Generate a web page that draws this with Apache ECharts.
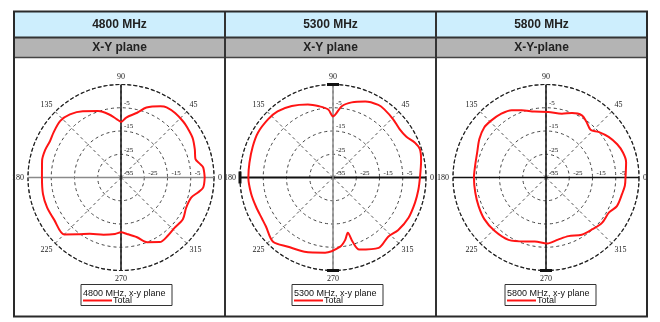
<!DOCTYPE html>
<html><head><meta charset="utf-8">
<script src="https://cdn.jsdelivr.net/npm/echarts@6/dist/echarts.min.js"></script>
<style>html,body{margin:0;padding:0;background:#fff}#c{width:660px;height:322px}</style>
</head><body><div id="c"></div>
<script>
// ---------- data ----------
const freqLabels = ['4800 MHz', '5300 MHz', '5800 MHz'];
const planeLabels = ['X-Y plane', 'X-Y plane', 'X-Y-plane'];
const legendTitles = ['4800 MHz, x-y plane', '5300 MHz, x-y plane', '5800 MHz, x-y plane'];
const seriesName = 'Total';
const angleTicks = [0, 45, 90, 135, 180, 225, 270, 315];
const radiusTicks = [-35, -25, -15, -5, 5];

const angles4800 = [0, 7, 10, 14, 21, 29, 37, 42, 50, 57, 61, 70, 76, 85, 90, 94, 101, 109, 120, 129, 137, 146, 153, 160, 168, 180, 192, 202, 212, 225, 233, 241, 253, 264, 270, 276, 285, 292, 301, 309, 317, 326, 335, 344, 349, 353, 360];
const gain4800 = [1.0, 0.6, -0.6, -2.0, -1.0, 0.2, 0.7, 1.0, 1.2, 1.0, 0.0, -3.0, -6.3, -9.1, -11.1, -9.9, -7.3, -4.8, -2.1, -0.1, 0.7, -0.1, -0.7, -0.3, -0.3, -1.0, -0.7, -0.7, -1.0, -0.4, -4.4, -7.3, -9.3, -10.6, -11.4, -10.6, -8.4, -5.0, -2.6, -2.9, -3.4, -2.9, -4.1, -3.6, -1.3, 0.6, 1.0];

const angles5300 = [0, 11, 18, 23, 29, 36, 44, 53, 58, 67, 76, 83, 90, 94, 101, 109, 120, 130, 138, 149, 159, 170, 180, 191, 201, 210, 216, 227, 237, 249, 264, 276, 281, 285, 287, 290, 303, 313, 321, 332, 343, 352, 360];
const gain5300 = [2.4, 3.6, 4.3, 3.3, 1.1, 0.4, 1.0, 1.7, 1.8, 0.5, -1.7, -4.1, -8.7, -5.7, -3.8, -1.8, 0.5, 2.1, 2.5, 2.6, 2.0, 1.5, 1.4, 0.9, 0.4, 0.3, 0.7, 2.8, 0.5, -0.8, -2.5, -5.1, -7.6, -10.4, -6.1, -2.0, 1.1, -0.2, 1.0, 1.8, 1.9, 2.1, 2.4];

const angles5800 = [0, 11, 18, 25, 33, 41, 47, 54, 60, 68, 76, 88, 100, 110, 117, 125, 134, 141, 150, 160, 171, 180, 192, 203, 214, 226, 239, 252, 260, 271, 281, 291, 302, 312, 321, 331, 338, 348, 354, 360];
const gain5800 = [-0.8, 0.1, -0.2, -1.2, -2.9, -5.1, -6.9, -5.4, -4.1, -5.1, -6.7, -6.8, -6.2, -4.2, -2.5, -1.5, -1.0, -0.8, -1.9, -3.5, -4.1, -4.0, -3.9, -3.5, -3.0, -3.1, -3.7, -6.1, -7.1, -6.6, -7.8, -8.0, -6.0, -5.1, -4.0, -4.0, -2.1, -1.5, -0.9, -0.8];

const anglesList = [angles4800, angles5300, angles5800];
const gainList = [gain4800, gain5300, gain5800];

// ---------- layout ----------
const centersX = [121, 333, 546];
const centerY = 177.5;
const R = 93;
const cellEdges = [14, 225, 436, 647];
const legendBoxX = [81, 292, 505];
const crossColors = [['#8a8a8a', '#111'], ['#111', '#8a8a8a'], ['#111', '#111']];
const crossWidths = [[1.5, 1.5], [2, 1.5], [1.5, 1.5]];
// thick end caps on axis ends: [at 0, at 180, at 90, at 270]
const caps = [[false, false, false, false], [false, true, true, true], [false, false, false, true]];

const rMin = radiusTicks[0], rMax = radiusTicks[radiusTicks.length - 1];

const polar = [], angleAxis = [], radiusAxis = [], series = [], legend = [], graphic = [];

const radLabelBase = {fontSize: 7, fontFamily: 'Liberation Serif', color: '#111', margin: 0, align: 'left', verticalAlign: 'bottom'};

function endPoint(r, a, cap, size) {
  return cap ? {value: [r, a], symbol: 'rect', symbolSize: size, itemStyle: {color: '#111'}} : {value: [r, a], symbol: 'none'};
}

centersX.forEach((cx, i) => {
  polar.push({center: [cx, centerY], radius: R});
  polar.push({center: [cx, centerY], radius: R});
  angleAxis.push({
    polarIndex: 2 * i, type: 'value', min: 0, max: 360, interval: 45, startAngle: 0, clockwise: false,
    axisLine: {lineStyle: {color: '#222', width: 1.2, type: [4, 2]}},
    axisTick: {show: false},
    axisLabel: {margin: 4, fontSize: 8, fontFamily: 'Liberation Serif', color: '#222',
      formatter: v => angleTicks.indexOf(v) >= 0 ? String(v) : ''},
    splitLine: {lineStyle: {color: '#555', width: 1, type: [3, 3]}}
  });
  angleAxis.push({polarIndex: 2 * i + 1, type: 'value', min: 0, max: 360, startAngle: 90, clockwise: false, show: false});
  radiusAxis.push({
    polarIndex: 2 * i, type: 'value', min: rMin, max: rMax, interval: 10,
    axisLine: {show: false}, axisTick: {show: false},
    axisLabel: Object.assign({}, radLabelBase, {padding: [0, 0, 1, 4],
      formatter: v => (v === rMin || v === rMax) ? '' : String(v)}),
    splitLine: {lineStyle: {color: '#444', width: 1, type: [3, 3]}}
  });
  radiusAxis.push({
    polarIndex: 2 * i + 1, type: 'value', min: rMin, max: rMax, interval: 10,
    axisLine: {show: false}, axisTick: {show: false}, splitLine: {show: false},
    axisLabel: Object.assign({}, radLabelBase, {padding: [0, 0, 1, 3],
      formatter: v => (v === rMax) ? '' : String(v)})
  });
  series.push({type: 'line', coordinateSystem: 'polar', name: 'h' + i, polarIndex: 2 * i, silent: true, z: 3,
    data: [endPoint(rMax, 0, caps[i][0], [3, 12]), {value: [rMin, 0], symbol: 'none'}, endPoint(rMax, 180, caps[i][1], [3, 12])],
    lineStyle: {color: crossColors[i][0], width: crossWidths[i][0]}});
  series.push({type: 'line', coordinateSystem: 'polar', name: 'v' + i, polarIndex: 2 * i, silent: true, z: 3,
    data: [endPoint(rMax, 90, caps[i][2], [12, 3]), {value: [rMin, 90], symbol: 'none'}, endPoint(rMax, 270, caps[i][3], [12, 3])],
    lineStyle: {color: crossColors[i][1], width: crossWidths[i][1]}});
  series.push({type: 'line', coordinateSystem: 'polar', name: seriesName, polarIndex: 2 * i, symbol: 'none', smooth: 0.3, z: 5,
    data: anglesList[i].map((a, k) => [gainList[i][k], a]),
    itemStyle: {color: '#ff1414'},
    lineStyle: {color: '#ff1414', width: 2}});
  legend.push({data: [seriesName], left: legendBoxX[i] + 2, top: 296, padding: 0,
    itemWidth: 29, itemHeight: 2, icon: 'rect', selectedMode: false,
    textStyle: {fontSize: 9, fontFamily: 'Liberation Sans', color: '#111', padding: [0, 0, 0, -4]}});
  graphic.push({type: 'rect', shape: {x: legendBoxX[i], y: 284.5, width: 91, height: 21},
    style: {fill: 'none', stroke: '#333', lineWidth: 1}, z: 10});
  graphic.push({type: 'text', x: legendBoxX[i] + 2, y: 293.5,
    style: {text: legendTitles[i], fontSize: 9, fontFamily: 'Liberation Sans', fill: '#111', align: 'left', verticalAlign: 'middle'}, z: 10});
  const mid = (cellEdges[i] + cellEdges[i + 1]) / 2;
  graphic.push({type: 'text', x: mid, y: 25,
    style: {text: freqLabels[i], fontSize: 12, fontWeight: 'bold', fontFamily: 'Liberation Sans', fill: '#222', align: 'center', verticalAlign: 'middle'}, z: 10});
  graphic.push({type: 'text', x: mid, y: 48,
    style: {text: planeLabels[i], fontSize: 12, fontWeight: 'bold', fontFamily: 'Liberation Sans', fill: '#222', align: 'center', verticalAlign: 'middle'}, z: 10});
});

graphic.unshift(
  {type: 'rect', shape: {x: 14, y: 12, width: 633, height: 25.5}, style: {fill: '#cdeefd'}, z: 1},
  {type: 'rect', shape: {x: 14, y: 38, width: 633, height: 19.5}, style: {fill: '#b4b4b4'}, z: 1}
);
graphic.push(
  {type: 'line', shape: {x1: 14, y1: 37.5, x2: 647, y2: 37.5}, style: {stroke: '#333', lineWidth: 2}, z: 9},
  {type: 'line', shape: {x1: 14, y1: 57.5, x2: 647, y2: 57.5}, style: {stroke: '#444', lineWidth: 1.5}, z: 9},
  {type: 'line', shape: {x1: 225, y1: 11, x2: 225, y2: 317}, style: {stroke: '#333', lineWidth: 2}, z: 9},
  {type: 'line', shape: {x1: 436, y1: 11, x2: 436, y2: 317}, style: {stroke: '#333', lineWidth: 2}, z: 9},
  {type: 'rect', shape: {x: 14, y: 11.5, width: 633, height: 305}, style: {fill: 'none', stroke: '#2a2a2a', lineWidth: 2}, z: 9}
);

const chart = echarts.init(document.getElementById('c'), null, {renderer: 'canvas'});
chart.setOption({
  animation: false,
  backgroundColor: '#fff',
  polar, angleAxis, radiusAxis, series, legend, graphic
});
</script></body></html>
